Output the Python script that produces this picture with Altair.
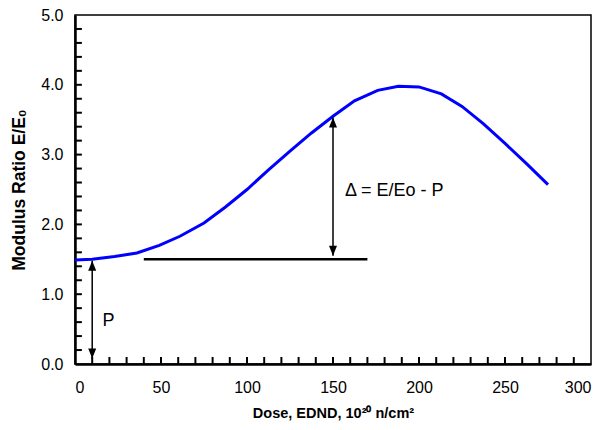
import altair as alt
import pandas as pd

# Curve: dose (10^20 n/cm^2) vs modulus ratio E/E0
dose = [0, 10, 23, 36, 49, 61, 75, 87.5, 100, 112.5, 125, 137.5, 150, 162.5,
        176, 188, 200, 213, 225, 237.5, 250, 262.5, 275]
ratio = [1.49, 1.50, 1.54, 1.59, 1.70, 1.83, 2.02, 2.25, 2.50, 2.78, 3.05, 3.31,
         3.55, 3.77, 3.92, 3.98, 3.97, 3.87, 3.69, 3.44, 3.16, 2.87, 2.57]

# Horizontal reference line at P
p_line_x = [40, 170]
p_value = 1.5

# Arrows: (x, y_bottom_tip, y_top_tip)
arrow_x = [10, 150]
arrow_lo = [0.08, 1.55]
arrow_hi = [1.48, 3.53]

# Annotations
ann_text = ["P", "\u0394 = E/Eo - P"]
ann_x = [16, 157]
ann_y = [0.62, 2.48]

# Axis tick positions
x_labels = [0, 50, 100, 150, 200, 250, 300]
y_labels = [0, 1, 2, 3, 4, 5]
x_ticks = [10, 20, 30, 40, 50, 60, 70, 80, 90, 100, 110, 120, 130, 140, 150,
           160, 170, 180, 190, 200, 210, 220, 230, 240, 250, 260, 270, 280, 290]
y_ticks = [0.2, 0.4, 0.6, 0.8, 1.0, 1.2, 1.4, 1.6, 1.8, 2.0, 2.2, 2.4, 2.6, 2.8,
           3.0, 3.2, 3.4, 3.6, 3.8, 4.0, 4.2, 4.4, 4.6, 4.8]

FONT = "Liberation Sans"

xs = alt.Scale(domain=[0, 300], nice=False, zero=True)
ys = alt.Scale(domain=[0, 5], nice=False, zero=True)

x_axis = alt.Axis(values=x_labels, title="Dose, EDND, 10\u00b2\u2070 n/cm\u00b2",
                  ticks=False, grid=False, labelPadding=15, titlePadding=11,
                  titleFontSize=14.5)
y_axis = alt.Axis(values=y_labels, format=".1f", title="Modulus Ratio E/E\u2080",
                  ticks=False, grid=False, labelPadding=12, titlePadding=12,
                  titleFontSize=17.5)

curve_df = pd.DataFrame({"dose": dose, "ratio": ratio})
curve = alt.Chart(curve_df).mark_line(color="#0000FF", strokeWidth=3).encode(
    x=alt.X("dose:Q", scale=xs, axis=x_axis),
    y=alt.Y("ratio:Q", scale=ys, axis=y_axis),
)

hline_df = pd.DataFrame({"x": [p_line_x[0]], "x2": [p_line_x[1]], "y": [p_value]})
hline = alt.Chart(hline_df).mark_rule(color="black", strokeWidth=2.5).encode(
    x=alt.X("x:Q", scale=xs), x2="x2:Q", y=alt.Y("y:Q", scale=ys)
)

arr_df = pd.DataFrame({"x": arrow_x, "lo": arrow_lo, "hi": arrow_hi})
shafts = alt.Chart(arr_df).mark_rule(color="black", strokeWidth=1.5).encode(
    x=alt.X("x:Q", scale=xs), y=alt.Y("lo:Q", scale=ys), y2="hi:Q"
)
heads_up = alt.Chart(arr_df).mark_point(
    shape="M0,0L-0.8,2L0.8,2Z", filled=True, color="black", size=100, opacity=1
).encode(x=alt.X("x:Q", scale=xs), y=alt.Y("hi:Q", scale=ys))
heads_down = alt.Chart(arr_df).mark_point(
    shape="M0,0L-0.8,-2L0.8,-2Z", filled=True, color="black", size=100, opacity=1
).encode(x=alt.X("x:Q", scale=xs), y=alt.Y("lo:Q", scale=ys))

ann_df = pd.DataFrame({"t": ann_text, "x": ann_x, "y": ann_y})
ann = alt.Chart(ann_df).mark_text(
    align="left", baseline="middle", font=FONT, fontSize=18, color="black"
).encode(x=alt.X("x:Q", scale=xs), y=alt.Y("y:Q", scale=ys), text="t:N")

xt_df = pd.DataFrame({"x": x_ticks, "lo": [0.0] * len(x_ticks), "hi": [0.1] * len(x_ticks)})
xt = alt.Chart(xt_df).mark_rule(color="black", strokeWidth=2).encode(
    x=alt.X("x:Q", scale=xs), y=alt.Y("lo:Q", scale=ys), y2="hi:Q"
)
yt_df = pd.DataFrame({"y": y_ticks, "lo": [0.0] * len(y_ticks), "hi": [4.0] * len(y_ticks)})
yt = alt.Chart(yt_df).mark_rule(color="black", strokeWidth=2).encode(
    y=alt.Y("y:Q", scale=ys), x=alt.X("lo:Q", scale=xs), x2="hi:Q"
)

chart = alt.layer(curve, hline, shafts, heads_up, heads_down, ann, xt, yt).properties(
    width=516, height=349,
    autosize=alt.AutoSizeParams(type="none"),
    padding={"left": 67, "top": 7, "right": 8, "bottom": 57},
).configure_view(
    stroke="black", strokeWidth=1.5
).configure_axis(
    domainColor="black", domainWidth=2.5,
    labelFont=FONT, labelFontSize=16, labelColor="black",
    titleFont=FONT, titleFontWeight="bold", titleColor="black",
)

chart.save("out.html", embed_options={"renderer": "svg", "actions": False})
